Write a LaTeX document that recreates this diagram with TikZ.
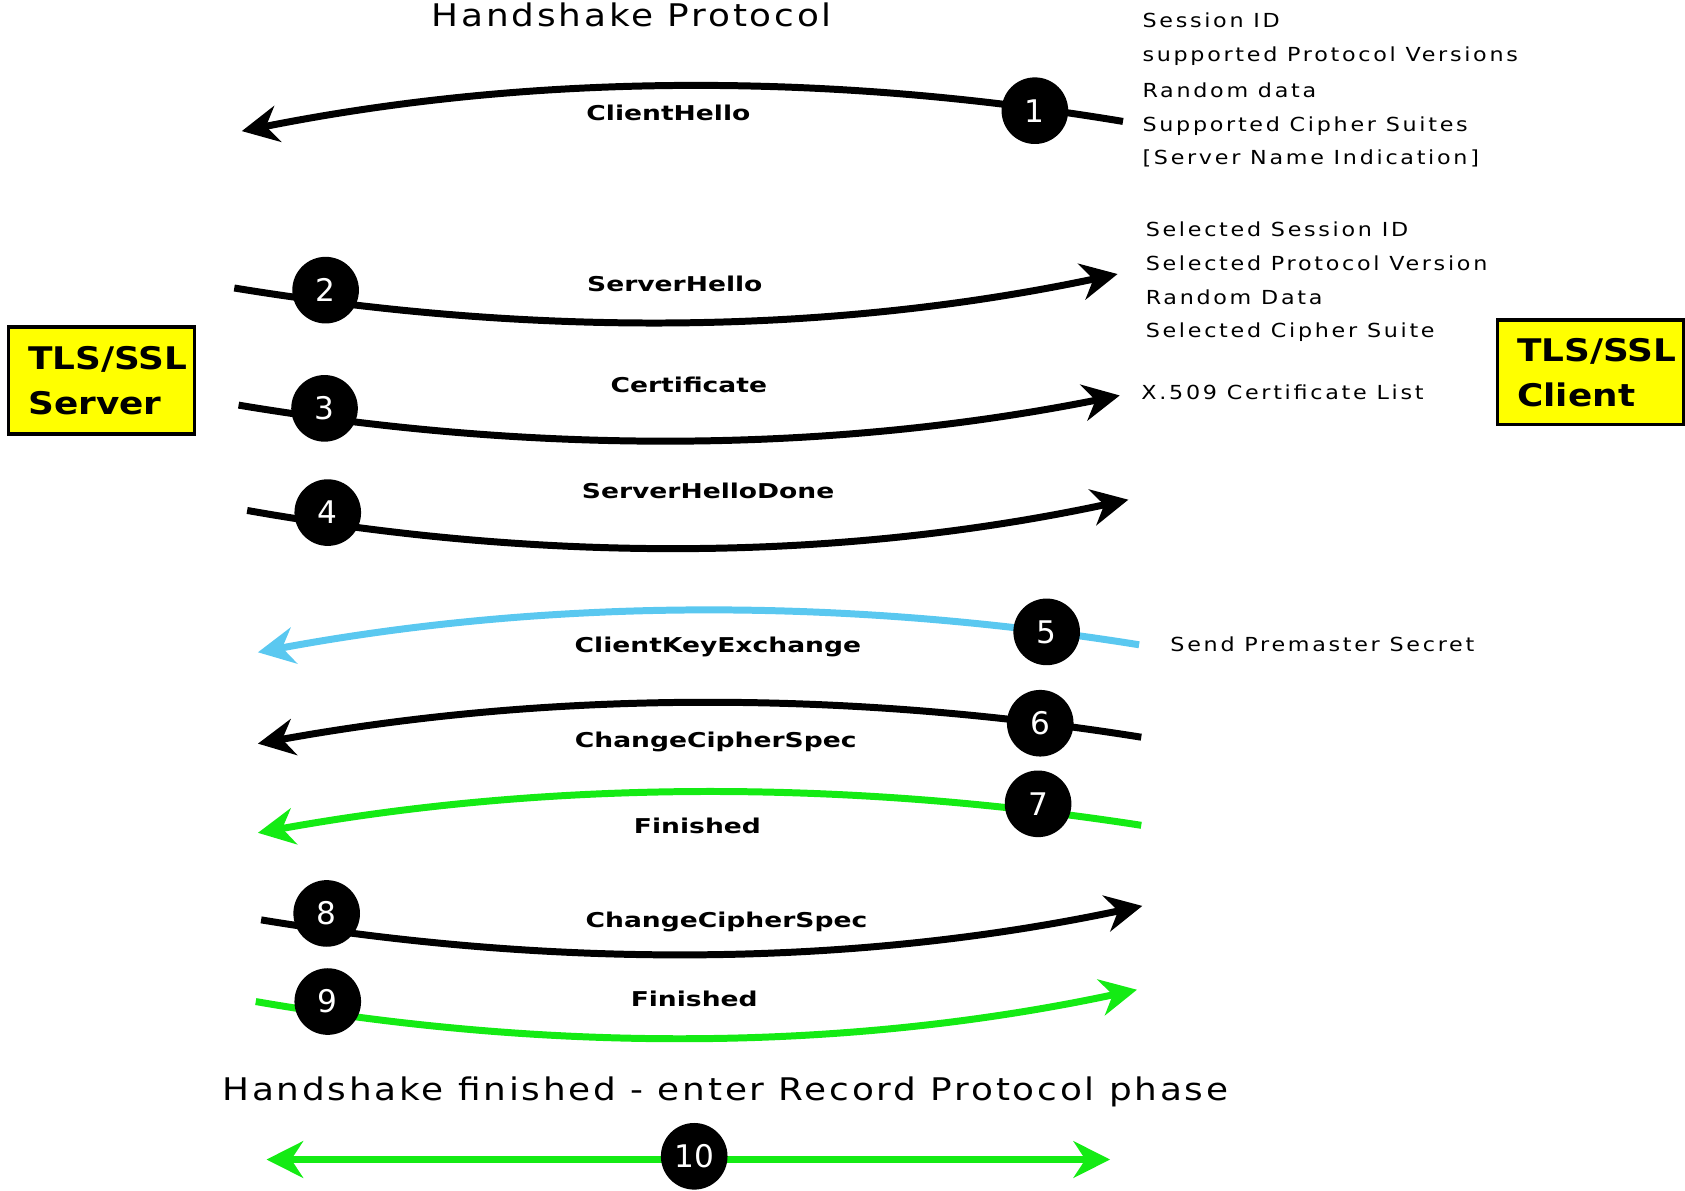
\documentclass[tikz,border=0pt]{standalone}
\usepackage{fontspec}
\setmainfont{DejaVu Sans}
\newfontfamily\headfont[FakeStretch=1.15,LetterSpace=9]{DejaVu Sans}
\newfontfamily\notefont[FakeStretch=1.15,LetterSpace=14]{DejaVu Sans}
\newfontfamily\msgfont[FakeStretch=1.3]{DejaVu Sans}
\newfontfamily\partyfont[FakeStretch=1.15]{DejaVu Sans}
\usetikzlibrary{arrows.meta}

\definecolor{keyblue}{RGB}{90,200,240}
\definecolor{okgreen}{RGB}{20,235,20}
\definecolor{partyyellow}{RGB}{255,255,0}

\begin{document}
\begin{tikzpicture}[x=1pt,y=-1pt,
  msg/.style={line width=6.5pt,-{Stealth[length=34pt,width=34pt,inset=11pt]}},
  both/.style={line width=6.5pt,{Stealth[length=34pt,width=34pt,inset=11pt]}-{Stealth[length=34pt,width=34pt,inset=11pt]}},
  num/.style={circle,fill=black,minimum size=62pt,inner sep=0pt,text=white,
    font=\fontsize{29}{29}\selectfont},
  lbl/.style={inner sep=0pt,text height=14pt,text depth=0pt,
    font=\msgfont\bfseries\fontsize{19}{19}\selectfont},
  note/.style={anchor=west,inner sep=0pt,text height=13pt,text depth=0pt,
    font=\notefont\fontsize{18}{18}\selectfont},
  head/.style={inner sep=0pt,text height=21pt,text depth=0pt,
    font=\headfont\fontsize{29}{29}\selectfont},
  party/.style={draw=black,line width=3.5pt,fill=partyyellow,minimum width=173pt,
    text width=150pt,inner xsep=0pt,align=left,
    font=\partyfont\bfseries\fontsize{29}{42}\selectfont},
]
\useasboundingbox (0,0) rectangle (1568,1108);

% end points of the messages
\coordinate (s1) at (1045,113);  \coordinate (e1) at (225,122);
\coordinate (s2) at (218,268);   \coordinate (e2) at (1040,255);
\coordinate (s3) at (222,377);   \coordinate (e3) at (1042,368);
\coordinate (s4) at (230,475);   \coordinate (e4) at (1050,465);
\coordinate (s5) at (1060,600);  \coordinate (e5) at (240,607);
\coordinate (s6) at (1062,686);  \coordinate (e6) at (240,692);
\coordinate (s7) at (1062,768);  \coordinate (e7) at (240,775);
\coordinate (s8) at (243,856);   \coordinate (e8) at (1063,843);
\coordinate (s9) at (238,932);   \coordinate (e9) at (1058,921);
\coordinate (s10) at (248,1079); \coordinate (e10) at (1033,1079);

% message arcs
\draw[msg] (s1) .. controls (771.7,67.5) and (498.3,67.5) .. (e1);
\draw[msg] (s2) .. controls (492,312.8) and (766,312.8) .. (e2);
\draw[msg] (s3) .. controls (495.3,422.5) and (768.7,422.5) .. (e3);
\draw[msg] (s4) .. controls (503.3,523.3) and (776.7,523.3) .. (e4);
\draw[msg,keyblue] (s5) .. controls (786.7,556.2) and (513.3,556.2) .. (e5);
\draw[msg] (s6) .. controls (788,642.3) and (514,642.3) .. (e6);
\draw[msg,okgreen] (s7) .. controls (788,725.5) and (514,725.5) .. (e7);
\draw[msg] (s8) .. controls (516.3,900.8) and (789.7,900.8) .. (e8);
\draw[msg,okgreen] (s9) .. controls (511.3,979.2) and (784.7,979.2) .. (e9);
\draw[both,okgreen] (s10) -- (e10);

% step numbers
\node[num] (c1) at (963,103) {1};
\node[num] (c2) at (303,270) {2};
\node[num] (c3) at (302,380) {3};
\node[num] (c4) at (305,477) {4};
\node[num] (c5) at (974,588) {5};
\node[num] (c6) at (968,673) {6};
\node[num] (c7) at (966,748) {7};
\node[num] (c8) at (304,850) {8};
\node[num] (c9) at (305,932) {9};
\node[num] (c10) at (646,1076) {10};

% message names
\node[lbl] (m1) at (622,105) {ClientHello};
\node[lbl] (m2) at (628,264) {ServerHello};
\node[lbl] (m3) at (641,358) {Certificate};
\node[lbl] (m4) at (659,457) {ServerHelloDone};
\node[lbl] (m5) at (668,600) {ClientKeyExchange};
\node[lbl] (m6) at (666,689) {ChangeCipherSpec};
\node[lbl] (m7) at (649,769) {Finished};
\node[lbl] (m8) at (676,856) {ChangeCipherSpec};
\node[lbl] (m9) at (646,930) {Finished};

% titles
\node[head] (top) at (588,14) {Handshake Protocol};
\node[head] (bottom) at (675,1014) {Handshake finished - enter Record Protocol phase};

% contents of the messages
\node[note] (h1) at (1063,19) {Session ID};
\node[note] (h2) at (1063,51) {supported Protocol Versions};
\node[note] (h3) at (1063,84) {Random data};
\node[note] (h4) at (1063,116) {Supported Cipher Suites};
\node[note] (h5) at (1063,147) {[Server Name Indication]};
\node[note] (r1) at (1066,214) {Selected Session ID};
\node[note] (r2) at (1066,245) {Selected Protocol Version};
\node[note] (r3) at (1066,277) {Random Data};
\node[note] (r4) at (1066,308) {Selected Cipher Suite};
\node[note] (x1) at (1062,365) {X.509 Certificate List};
\node[note] (k1) at (1089,600) {Send Premaster Secret};

% the two parties
\node[party,minimum height=100pt] (server) at (94.5,354) {\hspace*{7pt}TLS/SSL\\\hspace*{7pt}Server};
\node[party,minimum height=97pt] (client) at (1480,346.5) {\hspace*{7pt}TLS/SSL\\\hspace*{7pt}Client};
\end{tikzpicture}
\end{document}
